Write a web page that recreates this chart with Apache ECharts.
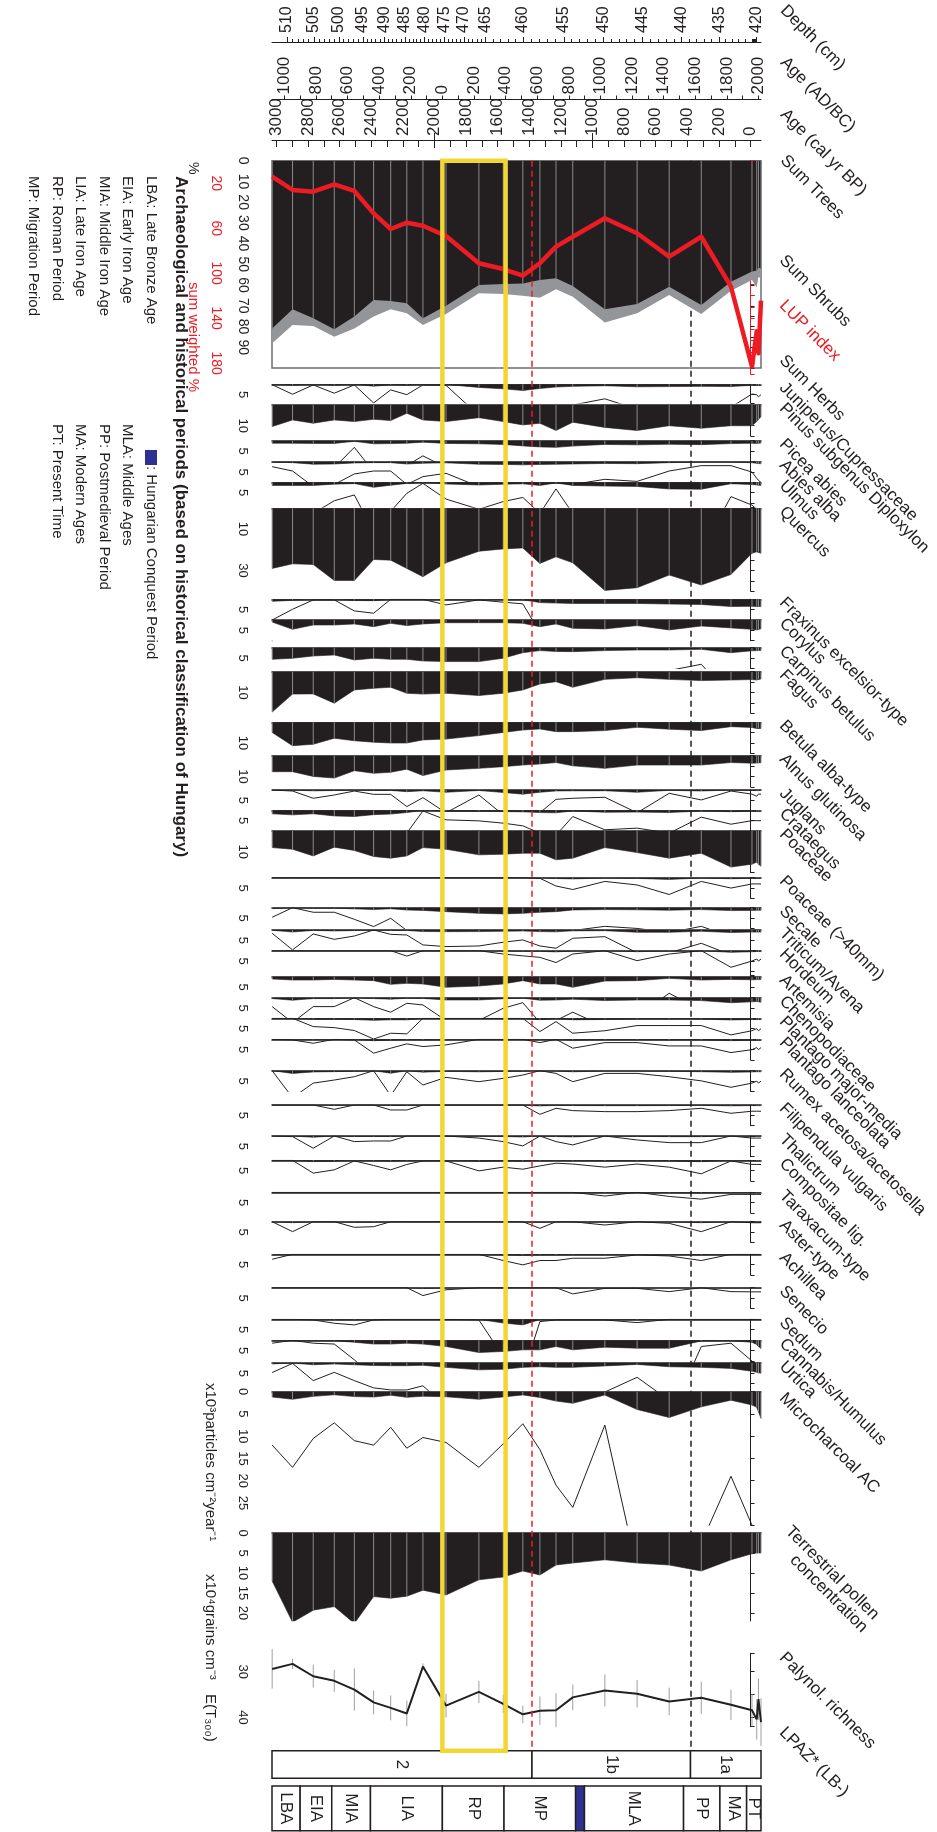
<!DOCTYPE html>
<html><head><meta charset="utf-8"><title>Pollen diagram</title>
<script src="https://cdn.jsdelivr.net/npm/echarts@6.0.0/dist/echarts.min.js"></script>
<style>html,body{margin:0;padding:0;background:#fff;}#chart{width:937px;height:1832px;}</style>
</head><body><div id="chart"></div>
<script>
// ================= DATA =================
const ageBP = [3027, 2898, 2767, 2634, 2507, 2385, 2277, 2175, 2073, 1927, 1719, 1565, 1441, 1333, 1231, 1125, 922, 718, 515, 312, 124, -9, -39, -50, -66];
const depthTicks   = [510, 505, 500, 495, 490, 485, 480, 475, 470, 465, 460, 455, 450, 445, 440, 435, 430, 420];
const depthTickAge = [2933, 2763, 2605, 2453, 2318, 2187, 2063, 1938, 1814, 1678, 1441, 1182, 933, 684, 436, 199, -4, -39];
const calTicks = [0, 200, 400, 600, 800, 1000, 1200, 1400, 1600, 1800, 2000, 2200, 2400, 2600, 2800, 3000];
const adTicks = [-1000, -800, -600, -400, -200, 0, 200, 400, 600, 800, 1000, 1200, 1400, 1600, 1800, 2000];

const sumTrees  = [80.9, 71.7, 76.0, 81.3, 75.2, 67.2, 67.7, 68.8, 76.0, 70.0, 60.0, 59.5, 59.2, 57.5, 56.7, 60.5, 71.7, 69.1, 60.8, 69.6, 58.4, 53.5, 53.0, 51.4, 52.0];
const sumShrubs = [7.2, 7.6, 3.7, 3.6, 5.7, 8.0, 4.0, 4.8, 3.3, 4.0, 4.0, 4.8, 5.9, 8.6, 5.3, 5.1, 6.3, 4.5, 4.0, 4.4, 4.3, 4.0, 8.1, 4.6, 5.0];
const lupIndex  = [14.2, 26.0, 27.5, 21.0, 26.9, 46.8, 60.7, 55.1, 57.8, 66.9, 91.2, 96.3, 102.2, 91.2, 76.4, 67.6, 51.2, 64.5, 85.3, 67.6, 112, 183, 151.7, 171.2, 124.4];

const juniperus  = [0.02, 0.48, 0.03, 0.43, 0.03, 0.9, 0.27, 0.5, 0.03, 0.05, 1.5, 2.2, 3.0, 2.0, 1.3, 1.0, 0.7, 1.2, 1.1, 1.0, 1.1, 0.47, 0.5, 0.6, 0.5];
const pinus      = [10.4, 7.2, 8.8, 7.2, 8.0, 6.9, 7.5, 4.0, 7.2, 8.0, 6.1, 8.0, 9.6, 8.8, 12.3, 8.3, 10.8, 12.3, 10.0, 11.2, 10.0, 10.0, 8.0, 7.0, 5.6];
const picea      = [1.2, 1.2, 1.3, 1.3, 0.32, 1.5, 1.4, 1.2, 0.73, 1.3, 1.5, 1.8, 2.5, 3.0, 3.2, 2.6, 1.8, 2.0, 1.7, 1.9, 1.4, 1.2, 1.3, 1.2, 1.1];
const abies      = [0.24, 0.45, 1.2, 1.1, 0.59, 0.45, 0.45, 1.1, 0.72, 0.56, 1.2, 1.3, 1.5, 1.3, 1.2, 1.1, 0.85, 0.95, 0.45, 0.19, 0.19, 0.5, 0.8, 0.9, 1.0];
const ulmus      = [1.5, 1.5, 1.5, 0.89, 0.61, 2.4, 1.4, 0.53, 0.05, 0.81, 1.3, 0.93, 0.73, 1.5, 0.32, 1.5, 1.8, 2.0, 3.2, 3.3, 0.69, 1.1, 1.3, 1.4, 1.5];
const quercus    = [29, 26.8, 27.1, 34.8, 34.8, 24.7, 25, 29, 33, 26.3, 20.7, 19.6, 19.1, 26.6, 23.4, 26.3, 39.6, 38.3, 32.2, 37, 31.9, 21.7, 21, 21, 21.7];
const fraxinus   = [1.0, 0.48, 0.03, 0.03, 0.56, 0.67, 0.0, 0.0, 0.0, 0.27, 0.03, 0.14, 0.22, 1.6, 1.8, 2.0, 2.0, 2.0, 2.3, 2.5, 3.5, 3.4, 3.5, 3.5, 3.5];
const corylus    = [1.0, 4.5, 2.4, 2.4, 1.9, 3.2, 1.6, 2.7, 1.9, 1.3, 1.3, 1.3, 1.6, 3.2, 1.9, 4.0, 4.3, 2.7, 4.8, 2.9, 3.8, 4.5, 4.8, 4.5, 4.2];
const carpinus   = [5.6, 5.1, 4.0, 3.5, 5.9, 5.1, 5.6, 5.6, 6.4, 6.7, 6.7, 5.1, 2.4, 1.4, 1.8, 1.9, 1.4, 1.1, 1.1, 0.8, 2.4, 1.5, 1.4, 1.5, 1.3];
const fagus      = [19.5, 10.8, 10.7, 15.2, 8.8, 8.0, 7.5, 10.4, 10.8, 10.4, 11.5, 10.4, 8.8, 5.9, 4.8, 7.5, 3.7, 2.9, 3.7, 4.3, 4.0, 3.8, 4.0, 3.6, 3.5];
const betula     = [4.9, 11.3, 10.6, 7.7, 8.9, 9.6, 10.0, 10.0, 8.5, 8.1, 6.4, 4.9, 3.7, 3.2, 4.5, 4.5, 4.0, 2.4, 3.3, 4.0, 2.1, 2.5, 3.0, 2.8, 3.0];
const alnus      = [7.7, 7.7, 10.0, 10.8, 7.2, 8.5, 8.0, 6.5, 9.6, 6.9, 6.1, 5.3, 4.5, 4.0, 3.3, 4.9, 6.1, 4.5, 4.5, 4.5, 3.3, 3.6, 3.5, 3.6, 3.4];
const juglans    = [0, 0.05, 0.4, 0.24, 0.05, 0.21, 0.21, 0.8, 0.37, 1.1, 0.24, 1.2, 2.0, 1.1, 0.45, 0.4, 0.35, 1.1, 0.16, 0.48, 0.05, 0.2, 0.3, 0.2, 0.2];
const crataegus  = [1.7, 2.2, 1.7, 2.7, 3.0, 2.1, 1.8, 1.1, 0.03, 0.46, 0.51, 0.62, 0.75, 1.1, 1.2, 0.3, 0.94, 0.86, 1.1, 0.33, 0.67, 0.5, 0.5, 0.5, 0.5];
const poaceae    = [8.0, 8.8, 12.0, 7.8, 9.4, 12.3, 13.1, 12.0, 8.0, 8.8, 11.5, 11.2, 10.7, 10.7, 13.9, 13.1, 8.0, 10.4, 13.1, 10.7, 17.4, 16, 15, 16, 17];
const poaceae40  = [0, 0, 0, 0, 0, 0, 0, 0, 0, 0, 0, 0, 0, 0.03, 0.4, 0.57, 0.18, 0.35, 0.81, 0.18, 0.5, 0.3, 0.3, 0.3, 0.3];
const secale     = [0.46, 0, 0.22, 0.22, 0.56, 0.91, 0.51, 1.1, 1.3, 1.9, 2.7, 3.0, 2.7, 2.2, 1.9, 1.1, 0.9, 1.0, 1.2, 0.9, 1.4, 1.3, 1.2, 1.2, 1.2];
const triticum   = [0.16, 0.96, 0.19, 0.45, 0.29, 0, 0.21, 0.24, 0.72, 0.8, 0.77, 0.59, 0.48, 0.77, 0.88, 0.4, 0.32, 1.1, 1.1, 0.64, 1.2, 1.0, 1.0, 1.1, 1.0];
const hordeum    = [0, 0, 0, 0, 0, 0, 0, 0.26, 0, 0, 0, 0.16, 0.25, 0.32, 0.57, 0.16, 0, 0.48, 0.16, 0, 0.8, 0.5, 0.4, 0.5, 0.4];
const artemisia  = [1.1, 1.6, 1.6, 1.3, 1.6, 1.9, 3.7, 3.2, 3.5, 5.1, 4.5, 3.5, 1.9, 3.5, 3.5, 5.1, 2.1, 1.9, 0.8, 1.6, 1.3, 1.5, 1.4, 1.5, 1.4];
const chenopod   = [0.43, 1.2, 0.43, 0.43, 0, 0.43, 0.7, 0.27, 0.35, 1.1, 1.1, 0.51, 0.24, 1.2, 1.1, 0.7, 1.4, 1.1, 1.1, 1.4, 2.4, 2.0, 1.8, 2.0, 2.2];
const plMajor    = [0, 0, 0.4, 0.45, 0.59, 1.0, 0.72, 0.75, 0, 0, 0, 0, 0, 0.64, 0.16, 0.72, 0.6, 0.35, 0.35, 0.35, 0.8, 0.6, 0.5, 0.6, 0.5];
const plLanceol  = [0, 0.03, 0.19, 0, 0.03, 0.67, 0.43, 0.22, 0.35, 0.27, 0, 0, 0, 0.16, 0, 0.43, 0.16, 0.16, 0.32, 0.32, 0.64, 0.5, 0.4, 0.5, 0.4];
const rumex      = [0, 1.3, 0.6, 0.45, 0.29, 0, 1.2, 0.05, 0.69, 0.32, 0.53, 0.37, 0.21, 0, 0.13, 0.53, 0.13, 0.13, 0.29, 0.49, 0.8, 0.6, 0.5, 0.6, 0.5];
const filipend   = [0, 0, 0, 0.21, 0, 0, 0.24, 0.24, 0, 0, 0, 0, 0, 0.45, 0.16, 0.27, 0.32, 0.32, 0.27, 0.16, 0.4, 0.3, 0.3, 0.3, 0.3];
const thalictrum = [0, 0.03, 0.59, 0, 0.27, 0.24, 0.24, 0, 0, 0, 0.1, 0.27, 0.48, 0, 0.27, 0.43, 0, 0.19, 0.32, 0.32, 0, 0.1, 0.1, 0.1, 0.1];
const compositae = [0, 0, 0.62, 0.46, 0.03, 0.25, 0.46, 0.2, 0.03, 0.03, 0.51, 0.33, 0.43, 0.27, 0.14, 0.18, 0.33, 0.18, 0.33, 0.65, 0.03, 0.2, 0.2, 0.2, 0.2];
const taraxacum  = [0, 0, 0, 0, 0, 0, 0, 0, 0, 0, 0, 0, 0, 0, 0, 0, 0.18, 0, 0.2, 0.33, 0.1, 0.1, 0.1, 0.1, 0.1];
const aster      = [0, 0.48, 0, 0, 0.27, 0.24, 0, 0, 0, 0, 0, 0, 0, 0.32, 0, 0, 0.16, 0, 0.08, 0.48, 0, 0.05, 0.05, 0.05, 0.05];
const achillea   = [0.24, 0, 0, 0, 0, 0, 0, 0, 0, 0, 0, 0.3, 0.51, 0.3, 0.3, 0.19, 0.19, 0.03, 0.08, 0.3, 0, 0, 0, 0, 0];
const senecio    = [0, 0, 0, 0, 0, 0, 0, 0, 0.38, 0.1, 0, 0, 0, 0, 0, 0.3, 0.03, 0.03, 0.19, 0, 0.19, 0.2, 0.2, 0.2, 0.2];
const sedum      = [0, 0, 0.03, 0.19, 0.27, 0.03, 0, 0, 0, 0, 0.03, 1.8, 2.7, 0.11, 0.03, 0.03, 0.03, 0.16, 0, 0, 0, 0, 0, 0, 0];
const cannabis   = [0.14, 0, 0.14, 0.18, 0.94, 1.8, 1.8, 1.4, 1.8, 3.0, 5.9, 5.4, 4.6, 4.6, 3.0, 4.6, 3.3, 3.8, 3.8, 0.3, 0.14, 1.0, 2.0, 3.0, 4.0];
const urtica     = [0.46, 0.02, 0.85, 0.45, 0.85, 1.2, 1.3, 1.3, 1.1, 2.1, 3.3, 3.0, 2.1, 1.8, 2.1, 2.1, 1.4, 0.69, 1.8, 2.1, 2.6, 4.0, 4.5, 5.0, 5.0];

const microcharcoal = [1.2, 1.7, 1.05, 0.7, 1.1, 1.2, 0.8, 1.27, 1.03, 1.14, 1.7, 1.17, 0.72, 1.3, 2.1, 2.6, 0.75, 4.0, 5.8, 3.4, 1.9, 3.0, 3.5, 4.5, 6.0];
const terrPollen    = [12, 22.3, 19.3, 18.4, 22.6, 15.9, 16.3, 15.8, 14.3, 15.5, 11.7, 11, 9.5, 10.5, 8, 7.5, 6.7, 7.5, 8, 9.5, 6.7, 5.2, 5, 5, 5];
const richness      = [29.4, 28.3, 31.0, 32.0, 33.9, 36.7, 37.9, 39.1, 28.9, 37.4, 34.4, 37.0, 39.3, 38.5, 38.4, 35.6, 34.1, 34.8, 36.5, 35.7, 37.2, 38.4, 40.4, 36.0, 41.0];
const richnessErr   = [4.3, 1.1, 2.5, 2.4, 4.6, 2.6, 2.7, 2.8, 0.7, 2.6, 2.4, 2.0, 1.9, 3.1, 3.7, 2.8, 3.5, 3.0, 3.0, 3.5, 3.3, 3.5, 4.4, 4.5, 5.2];

const taxaNames = ['Juniperus/Cupressaceae', 'Pinus subgenus Diploxylon', 'Picea abies', 'Abies alba', 'Ulmus', 'Quercus',
  'Fraxinus excelsior-type', 'Corylus', 'Carpinus betulus', 'Fagus', 'Betula alba-type', 'Alnus glutinosa', 'Juglans', 'Crataegus',
  'Poaceae', 'Poaceae (>40mm)', 'Secale', 'Triticum/Avena', 'Hordeum', 'Artemisia', 'Chenopodiaceae', 'Plantago major-media',
  'Plantago lanceolata', 'Rumex acetosa/acetosella', 'Filipendula vulgaris', 'Thalictrum', 'Compositae lig.', 'Taraxacum-type',
  'Aster-type', 'Achillea', 'Senecio', 'Sedum', 'Cannabis/Humulus', 'Urtica'];
const taxaValues = [juniperus, pinus, picea, abies, ulmus, quercus, fraxinus, corylus, carpinus, fagus, betula, alnus, juglans,
  crataegus, poaceae, poaceae40, secale, triticum, hordeum, artemisia, chenopod, plMajor, plLanceol, rumex, filipend, thalictrum,
  compositae, taraxacum, aster, achillea, senecio, sedum, cannabis, urtica];
const taxaScaleLabels = [[5], [10], [5], [5], [5], [10, 30], [5], [5], [5], [10], [10], [10], [5], [5], [10], [5], [5], [5], [5], [5],
  [5], [5], [5], [5], [5], [5], [5], [5], [5], [5], [5], [5], [5], [5]];

const lpazLabels = ['2', '1b', '1a'];
const lpazBounds = [3028, 1383, 380, -66];
const periodLabels = ['LBA', 'EIA', 'MIA', 'LIA', 'RP', 'MP', '', 'MLA', 'PP', 'MA', 'PT'];
const periodBounds = [3028, 2850, 2650, 2405, 1950, 1560, 1107, 1051, 424, 194, 25, -66];
const romanPeriod = [1950, 1550];

// ================= LAYOUT / STYLE =================
const INK = '#231f20', GREY = '#939598', SAMPLE = '#8a8a8c', RED = '#ed1c24', YEL = '#f2d633', BLUE = '#2e3192';
const FONT = '"Liberation Sans", Arial, Helvetica, sans-serif';
const L = 272, W = 489, X_MIN = -66, X_MAX = 3028;
const PX = 2.073;            // px per percent
const EXAG = 10;
const AXIS_OFF = 15.5;
const panelTop = [384.3, 405, 440.7, 461.7, 482.3, 508.3, 599.3, 620, 647.7, 671.7, 722.3, 755.7, 790, 810.3, 831, 877.7,
  907.7, 930, 950.7, 976.7, 997.7, 1018.3, 1039.3, 1070.7, 1105, 1136, 1160.3, 1192.3, 1221.7, 1254.3, 1287.7, 1319.3, 1340.3, 1363];
const panelMax = [9, 15, 10, 10, 12, 40, 10, 10, 10, 20, 15, 15, 10, 10, 20, 10, 10, 10, 12, 10, 10, 10, 10, 10, 10, 10, 10, 10,
  10, 10, 10, 10, 10.5, 13.5];

const option = { animation: false, backgroundColor: '#fff', grid: [], xAxis: [], yAxis: [], series: [], graphic: [] };

function addGrid(top, height, extra) {
  option.grid.push(Object.assign({ left: L, width: W, top: top, height: height, show: false }, extra || {}));
  return option.grid.length - 1;
}
function addX(gi, extra) {
  option.xAxis.push(Object.assign({ gridIndex: gi, type: 'value', min: X_MIN, max: X_MAX, inverse: true, show: false,
    splitLine: { show: false } }, extra || {}));
  return option.xAxis.length - 1;
}
function addY(gi, extra) {
  option.yAxis.push(Object.assign({ gridIndex: gi, type: 'value', inverse: true, show: false, splitLine: { show: false } }, extra || {}));
  return option.yAxis.length - 1;
}
function pts(vals) { return ageBP.map((a, i) => [a, vals[i]]); }
function rangeTicks(max, step) { const t = []; for (let v = 0; v <= max + 1e-9; v += step) t.push(v); if (t[t.length - 1] < max) t.push(max); return t; }
function text(x, y, str, size, opts) {
  opts = opts || {};
  option.graphic.push({ type: 'text', x: x, y: y, rotation: opts.rot === undefined ? -Math.PI / 2 : opts.rot, silent: true, z: 50,
    style: { text: str, fill: opts.color || INK, font: (opts.weight || 'normal') + ' ' + size + 'px ' + FONT,
      textAlign: opts.align || 'left', align: opts.align || 'left', textVerticalAlign: opts.valign || 'middle', verticalAlign: opts.valign || 'middle' } });
}
function leftScale(gi, min, max, ticks, labels, color, offset, fs) {
  return addY(gi, { show: true, min: min, max: max, position: 'left', offset: offset,
    axisLine: { show: true, lineStyle: { color: color, width: 1 } },
    axisTick: { show: true, inside: true, length: 4, customValues: ticks, lineStyle: { color: color, width: 1 } },
    axisLabel: { show: true, rotate: -90, customValues: labels, fontSize: fs || 13, color: color, margin: 7, fontFamily: FONT,
      formatter: function (v) { return String(v); } } });
}
function interpAge(d) {
  for (let i = 0; i < depthTicks.length - 1; i++) {
    const d0 = depthTicks[i], d1 = depthTicks[i + 1];
    if (d <= d0 && d >= d1) return depthTickAge[i] + (depthTickAge[i + 1] - depthTickAge[i]) * (d0 - d) / (d0 - d1);
  }
  return null;
}

// ---------- top axes ----------
(function () {
  const gD = addGrid(42, 1);
  addY(gD, { min: 0, max: 1 });
  const minor = [];
  for (let d = 510; d >= 420; d--) { if (depthTicks.indexOf(d) < 0) minor.push(interpAge(d)); }
  addX(gD, { show: true, position: 'top', axisLine: { show: true, onZero: false, lineStyle: { color: INK, width: 1 } },
    axisTick: { show: true, length: 5, customValues: depthTickAge, lineStyle: { color: INK } },
    axisLabel: { show: true, rotate: -90, margin: 9, fontSize: 16, color: INK, fontFamily: FONT, customValues: depthTickAge,
      hideOverlap: false, showMinLabel: true, showMaxLabel: true,
      formatter: function (v) { let bi = 0, bd = 1e9; depthTickAge.forEach((a, i) => { if (Math.abs(a - v) < bd) { bd = Math.abs(a - v); bi = i; } }); return String(depthTicks[bi]); } } });
  addX(gD, { show: true, position: 'top', axisLine: { show: false, onZero: false }, axisLabel: { show: false },
    axisTick: { show: true, length: 3, customValues: minor, lineStyle: { color: INK } } });

  const gA = addGrid(99.5, 1);
  addY(gA, { min: 0, max: 1 });
  const adMinor = []; for (let a = -1100; a <= 2000; a += 100) adMinor.push(1950 - a);
  addX(gA, { show: true, position: 'top', axisLine: { show: true, onZero: false, lineStyle: { color: INK, width: 1 } },
    axisTick: { show: true, length: 4, customValues: adMinor, lineStyle: { color: INK } },
    axisLabel: { show: true, rotate: -90, margin: 5, fontSize: 17, color: INK, fontFamily: FONT, customValues: adTicks.map(a => 1950 - a),
      formatter: function (v) { return String(Math.abs(Math.round(1950 - v))); } } });

  const gB = addGrid(140, 1);
  addY(gB, { min: 0, max: 1 });
  const bpMinor = []; for (let b = 0; b <= 3000; b += 100) bpMinor.push(b);
  addX(gB, { show: true, position: 'top', axisLine: { show: true, onZero: false, lineStyle: { color: INK, width: 1 } },
    axisTick: { show: true, inside: true, length: 7, customValues: bpMinor, lineStyle: { color: INK } },
    axisLabel: { show: true, rotate: -90, margin: 4, fontSize: 17, color: INK, fontFamily: FONT, customValues: calTicks,
      formatter: function (v) { return String(Math.round(v)); } } });
  addX(gB, { show: true, position: 'top', offset: 7, axisLine: { show: false, onZero: false }, axisLabel: { show: false },
    axisTick: { show: true, inside: true, length: 15, customValues: [1000, 2000], lineStyle: { color: INK } } });

  text(783, 8, 'Depth (cm)', 17, { rot: -Math.PI / 4 });
  text(783, 60, 'Age (AD/BC)', 17, { rot: -Math.PI / 4 });
  text(783, 112, 'Age (cal yr BP)', 17, { rot: -Math.PI / 4 });
})();

// ---------- summary panel ----------
(function () {
  const top = 160.7, h = 100 * PX;
  const g = addGrid(top, h, { show: true, borderColor: '#6d6e71', borderWidth: 1.5 });
  const x = addX(g);
  const y = leftScale(g, 0, 100, rangeTicks(100, 5), [0, 10, 20, 30, 40, 50, 60, 70, 80, 90], INK, AXIS_OFF, 14);
  // trees + shrubs envelope (grey) drawn first, trees (black) on top
  const treesShrubs = ageBP.map((a, i) => [a, sumTrees[i] + sumShrubs[i]]);
  option.series.push({ type: 'line', name: 'Sum Shrubs', xAxisIndex: x, yAxisIndex: y, data: treesShrubs, symbol: 'none',
    lineStyle: { width: 0, opacity: 0 }, areaStyle: { color: GREY, opacity: 1 }, z: 3, silent: true });
  option.series.push({ type: 'line', name: 'Sum Trees', xAxisIndex: x, yAxisIndex: y, data: pts(sumTrees), symbol: 'none',
    lineStyle: { width: 0, opacity: 0 }, areaStyle: { color: INK, opacity: 1 }, z: 4, silent: true });
  option.series.push({ type: 'bar', xAxisIndex: x, yAxisIndex: y, data: pts(sumTrees), barWidth: 1, itemStyle: { color: SAMPLE }, z: 5, silent: true });
  // LUP index scale (sum weighted %)
  const gl = addGrid(top, 190 * 1.125);
  const xl = addX(gl);
  const yl = leftScale(gl, 0, 190, rangeTicks(190, 10), [20, 60, 100, 140, 180], RED, L - 230, 14);
  option.series.push({ type: 'line', name: 'LUP index', xAxisIndex: xl, yAxisIndex: yl, data: pts(lupIndex), symbol: 'none',
    lineStyle: { color: RED, width: 4.5, join: 'round' }, z: 12, clip: false, silent: true });
  text(193, 162, '%', 14, {});
  text(193, 282, 'sum weighted %', 15, { color: RED });
  text(783, 158, 'Sum Trees', 17, { rot: -Math.PI / 4 });
  text(782, 258, 'Sum Shrubs', 17, { rot: -Math.PI / 4 });
  text(782, 303, 'LUP index', 17, { rot: -Math.PI / 4, color: RED });
  text(782, 358, 'Sum Herbs', 17, { rot: -Math.PI / 4 });
})();

// ---------- taxa panels ----------
taxaNames.forEach(function (name, k) {
  const top = panelTop[k], max = panelMax[k], vals = taxaValues[k];
  const g = addGrid(top, max * PX);
  const x = addX(g, { show: true, position: 'top', axisLine: { show: true, onZero: false, lineStyle: { color: INK, width: 1.5 } },
    axisTick: { show: false }, axisLabel: { show: false } });
  const y = leftScale(g, 0, max, rangeTicks(max, 5), taxaScaleLabels[k], INK, AXIS_OFF, 13);
  const ye = addY(g, { min: 0, max: max / EXAG });
  option.series.push({ type: 'line', xAxisIndex: x, yAxisIndex: ye, data: pts(vals), symbol: 'none',
    lineStyle: { color: INK, width: 1 }, z: 3, silent: true });
  option.series.push({ type: 'line', name: name, xAxisIndex: x, yAxisIndex: y, data: pts(vals), symbol: 'none',
    lineStyle: { width: 0.6, color: INK }, areaStyle: { color: INK, opacity: 1 }, z: 4, silent: true });
  option.series.push({ type: 'bar', xAxisIndex: x, yAxisIndex: y, data: pts(vals), barWidth: 1, itemStyle: { color: SAMPLE }, z: 5, silent: true });
  text(782, top + 1, name, 17, { rot: -Math.PI / 4 });
});

// ---------- microcharcoal ----------
(function () {
  const top = 1391.7, max = 30, ppu = 4.45;
  const g = addGrid(top, max * ppu);
  const x = addX(g, { show: true, position: 'top', axisLine: { show: true, onZero: false, lineStyle: { color: INK, width: 1.5 } }, axisTick: { show: false }, axisLabel: { show: false } });
  const y = leftScale(g, 0, max, rangeTicks(max, 5), [0, 5, 10, 15, 20, 25], INK, AXIS_OFF, 13);
  const ye = addY(g, { min: 0, max: max / EXAG });
  option.series.push({ type: 'line', xAxisIndex: x, yAxisIndex: ye, data: pts(microcharcoal), symbol: 'none', lineStyle: { color: INK, width: 1 }, z: 3, silent: true });
  option.series.push({ type: 'line', name: 'Microcharcoal AC', xAxisIndex: x, yAxisIndex: y, data: pts(microcharcoal), symbol: 'none',
    lineStyle: { width: 0.6, color: INK }, areaStyle: { color: INK, opacity: 1 }, z: 4, silent: true });
  option.series.push({ type: 'bar', xAxisIndex: x, yAxisIndex: y, data: pts(microcharcoal), barWidth: 1, itemStyle: { color: SAMPLE }, z: 5, silent: true });
  text(782, top + 4, 'Microcharcoal AC', 17, { rot: -Math.PI / 4 });
})();

// ---------- terrestrial pollen concentration ----------
(function () {
  const top = 1533, max = 22, ppu = 4.0;
  const g = addGrid(top, max * ppu);
  const x = addX(g, { show: true, position: 'top', axisLine: { show: true, onZero: false, lineStyle: { color: INK, width: 1.5 } }, axisTick: { show: false }, axisLabel: { show: false } });
  const y = leftScale(g, 0, max, rangeTicks(20, 5), [0, 5, 10, 15, 20], INK, AXIS_OFF, 13);
  option.series.push({ type: 'line', name: 'Terrestrial pollen concentration', xAxisIndex: x, yAxisIndex: y, data: pts(terrPollen), symbol: 'none',
    lineStyle: { width: 0.6, color: INK }, areaStyle: { color: INK, opacity: 1 }, z: 4, silent: true });
  option.series.push({ type: 'bar', xAxisIndex: x, yAxisIndex: y, data: pts(terrPollen), barWidth: 1, itemStyle: { color: SAMPLE }, z: 5, silent: true });
  text(782, top + 2, 'Terrestrial pollen\n     concentration', 17, { rot: -Math.PI / 4 });
})();

// ---------- palynological richness ----------
(function () {
  const top = 1653.3, min = 26, max = 42, ppu = 4.59;
  const g = addGrid(top, (max - min) * ppu);
  const x = addX(g);
  const y = leftScale(g, min, max, [26, 30, 35, 40, 42], [30, 40], INK, AXIS_OFF, 13);
  option.series.push({ type: 'custom', xAxisIndex: x, yAxisIndex: y, silent: true, z: 3,
    data: ageBP.map((a, i) => [a, richness[i], richnessErr[i]]), encode: { x: 0, y: 1 },
    renderItem: function (params, api) {
      const a = api.value(0), v = api.value(1), e = api.value(2);
      const p1 = api.coord([a, v - e]), p2 = api.coord([a, v + e]);
      return { type: 'line', shape: { x1: p1[0], y1: p1[1], x2: p2[0], y2: p2[1] }, style: { stroke: '#9d9fa2', lineWidth: 1 } };
    } });
  option.series.push({ type: 'line', name: 'Palynol. richness', xAxisIndex: x, yAxisIndex: y, data: pts(richness), symbol: 'none',
    lineStyle: { color: INK, width: 2 }, z: 4, silent: true });
  text(782, top + 2, 'Palynol. richness', 17, { rot: -Math.PI / 4 });
})();

// ---------- overlays: dashed zone lines & Roman period box ----------
(function () {
  const g = addGrid(160.7, 1590);
  const x = addX(g); const y = addY(g, { min: 0, max: 1 });
  option.series.push({ type: 'line', xAxisIndex: x, yAxisIndex: y, data: [], z: 1, silent: true,
    markLine: { z: 1, symbol: 'none', silent: true, label: { show: false }, lineStyle: { color: INK, width: 1.5, type: [6, 4] },
      data: [{ xAxis: lpazBounds[2] }] } });
  option.series.push({ type: 'line', xAxisIndex: x, yAxisIndex: y, data: [], z: 20, silent: true,
    markLine: { z: 20, symbol: 'none', silent: true, label: { show: false }, lineStyle: { color: RED, width: 1.5, type: [6, 4] },
      data: [{ xAxis: lpazBounds[1] }] } });
  option.series.push({ type: 'line', xAxisIndex: x, yAxisIndex: y, data: [], z: 21, silent: true,
    markArea: { z: 21, silent: true, label: { show: false }, itemStyle: { color: 'rgba(0,0,0,0)', borderColor: YEL, borderWidth: 4.5 },
      data: [[{ xAxis: romanPeriod[0] }, { xAxis: romanPeriod[1] }]] } });
})();

// ---------- zone boxes ----------
function zoneSeries(top, height, labels, bounds, fills, fs) {
  const g = addGrid(top, height);
  const x = addX(g); const y = addY(g, { min: 0, max: 1, inverse: false });
  option.series.push({ type: 'custom', xAxisIndex: x, yAxisIndex: y, silent: true, z: 6,
    data: labels.map((l, i) => [bounds[i], bounds[i + 1], i]), encode: { x: [0, 1] },
    renderItem: function (params, api) {
      const s = api.value(0), e = api.value(1), k = api.value(2);
      const p1 = api.coord([s, 1]), p2 = api.coord([e, 0]);
      const x0 = Math.min(p1[0], p2[0]), w = Math.abs(p2[0] - p1[0]);
      const y0 = Math.min(p1[1], p2[1]), h = Math.abs(p2[1] - p1[1]);
      const ch = [{ type: 'rect', shape: { x: x0, y: y0, width: w, height: h }, style: { fill: fills[k] || '#fff', stroke: INK, lineWidth: 1.5 } }];
      if (labels[k]) ch.push({ type: 'text', x: x0 + w / 2, y: y0 + h / 2, rotation: -Math.PI / 2,
        style: { text: labels[k], fill: INK, font: fs + 'px ' + FONT, textAlign: 'center', align: 'center', textVerticalAlign: 'middle', verticalAlign: 'middle' } });
      return { type: 'group', children: ch };
    } });
}
zoneSeries(1750.7, 27.6, lpazLabels, lpazBounds, {}, 17);
zoneSeries(1786, 44.7, periodLabels, periodBounds, { 6: BLUE }, 17);
text(782, 1730, 'LPAZ* (LB-)', 17, { rot: -Math.PI / 4 });

// ---------- unit labels ----------
text(210, 1383, 'x10³particles cm⁻²year⁻¹', 15, {});
text(210, 1574, 'x10⁴grains cm⁻³', 15, {});
text(210, 1694, 'E(T₃₀₀)', 15, {});

// ---------- legend ----------
(function () {
  text(181, 176, 'Archaeological and historical periods (based on historical classification of Hungary)', 17, { weight: 'bold' });
  const col1 = ['LBA: Late Bronze Age', 'EIA: Early Iron Age', 'MIA: Middle Iron Age', 'LIA: Late Iron Age', 'RP: Roman Period', 'MP: Migration Period'];
  const col2 = [': Hungarian Conquest Period', 'MLA: Middle Ages', 'PP: Postmedieval Period', 'MA: Modern Ages', 'PT: Present Time'];
  const xs = [151, 127.5, 104, 80.5, 57, 33.5];
  col1.forEach((t, i) => text(xs[i], 176, t, 15, {}));
  col2.forEach((t, i) => text(xs[i], i === 0 ? 466 : 424, t, 15, {}));
  option.graphic.push({ type: 'rect', shape: { x: 145, y: 450, width: 12, height: 15 }, style: { fill: BLUE }, silent: true, z: 50 });
})();

const chart = echarts.init(document.getElementById('chart'), null, { renderer: 'canvas', width: 937, height: 1832 });
chart.setOption(option);
</script></body></html>
